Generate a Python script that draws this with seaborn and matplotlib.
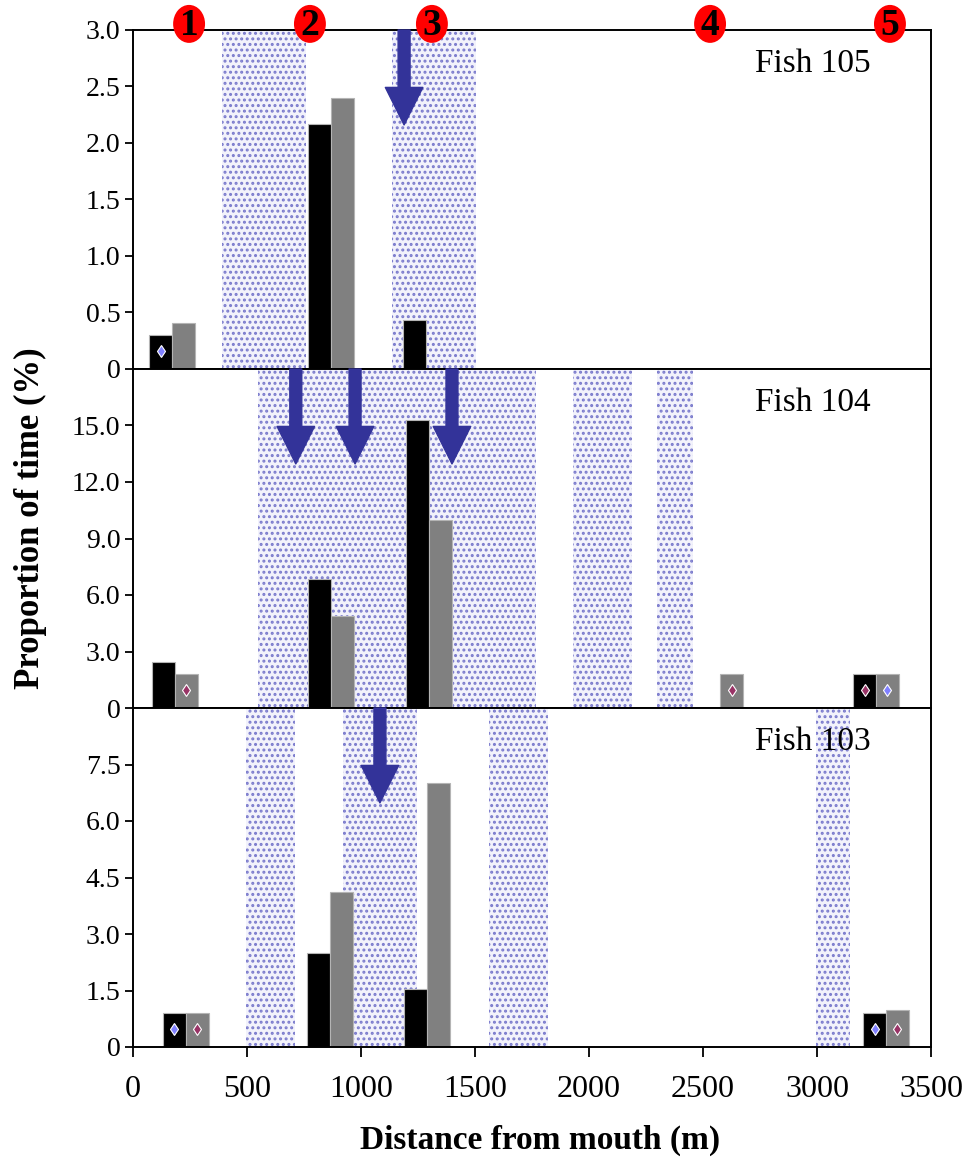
import numpy as np
import pandas as pd
import matplotlib
matplotlib.use("Agg")
import matplotlib.pyplot as plt
import seaborn as sns
from matplotlib.patches import Ellipse

# panels from top to bottom
fish = ["Fish 105", "Fish 104", "Fish 103"]

sites_105 = [172, 868, 1285]
black_105 = [0.30, 2.17, 0.43]
gray_105 = [0.41, 2.40, 0.0]

sites_104 = [184, 868, 1298, 2575, 3259]
black_104 = [2.45, 6.85, 15.3, 0.0, 1.8]
gray_104 = [1.8, 4.9, 10.0, 1.8, 1.8]

sites_103 = [232, 864, 1289, 3303]
black_103 = [0.9, 2.5, 1.55, 0.9]
gray_103 = [0.9, 4.12, 7.0, 0.98]

# shaded reaches (m)
bands_105 = [(390, 759), (1136, 1504)]
bands_104 = [(548, 1768), (1930, 2189), (2298, 2456)]
bands_103 = [(496, 711), (921, 1246), (1561, 1820), (2996, 3145)]

# arrows (m)
arrows_105 = [1189]
arrows_104 = [714, 974, 1399]
arrows_103 = [1083]

# small markers: (site index, series, colour)
marks_105 = [(0, "black", "#8080ff")]
marks_104 = [(0, "gray", "#993366"), (3, "gray", "#993366"),
             (4, "black", "#993366"), (4, "gray", "#8080ff")]
marks_103 = [(0, "black", "#8080ff"), (0, "gray", "#993366"),
             (3, "black", "#8080ff"), (3, "gray", "#993366")]
mark_y = [0.16, 0.95, 0.48]

ymax = [3.0, 18.0, 9.0]
ystep = [0.5, 3.0, 1.5]

# numbered sites along the top
site_nums = ["1", "2", "3", "4", "5"]
site_num_x = [246, 776, 1311, 2531, 3320]

sites = [sites_105, sites_104, sites_103]
blacks = [black_105, black_104, black_103]
grays = [gray_105, gray_104, gray_103]
bands = [bands_105, bands_104, bands_103]
arrows = [arrows_105, arrows_104, arrows_103]
marks = [marks_105, marks_104, marks_103]

sns.set_style("white")
plt.rcParams["font.family"] = ["Liberation Serif", "DejaVu Serif"]
plt.rcParams["text.color"] = "black"
plt.rcParams["xtick.color"] = "black"
plt.rcParams["ytick.color"] = "black"
plt.rcParams["hatch.linewidth"] = 1.4

fig = plt.figure(figsize=(9.65, 11.6), dpi=100)
left, right = 133 / 965, 931 / 965
ph = 339 / 1160
tops = [1 - 30 / 1160 - ph * i for i in range(3)]
axes = [fig.add_axes([left, t - ph, right - left, ph]) for t in tops]

half = 50
for i, ax in enumerate(axes):
    rows = []
    for s, b, g in zip(sites[i], blacks[i], grays[i]):
        if b > 0:
            rows.append({"pos": s - half, "series": "black", "val": b})
        if g > 0:
            rows.append({"pos": s + half, "series": "gray", "val": g})
    df = pd.DataFrame(rows)

    for a, b in bands[i]:
        ax.axvspan(a, b, facecolor="#f2f2fb", edgecolor="#7a7acc",
                   hatch="...", linewidth=0, zorder=0)

    sns.barplot(data=df, x="pos", y="val", hue="series", native_scale=True,
                palette={"black": "#000000", "gray": "#808080"},
                dodge=False, width=1.0, errorbar=None, legend=False,
                edgecolor="#b4b4b4", linewidth=0.8, zorder=2, ax=ax)

    for si, ser, col in marks[i]:
        x = sites[i][si] + (-half if ser == "black" else half)
        ax.plot(x, mark_y[i], marker="d", ms=6, color=col,
                mec="white", mew=0.8, zorder=3)

    for x in arrows[i]:
        ax.annotate("", xy=(x, 0.72), xytext=(x, 1.0),
                    xycoords=("data", "axes fraction"),
                    textcoords=("data", "axes fraction"),
                    arrowprops=dict(arrowstyle="simple,head_length=1.35,head_width=1.35,tail_width=0.43",
                                    color="#333399", shrinkA=0, shrinkB=0,
                                    mutation_scale=20),
                    zorder=4)

    ax.set_xlim(0, 3500)
    ax.set_ylim(0, ymax[i])
    ticks = np.arange(0, ymax[i] - ystep[i] / 2 + (ystep[i] if i == 0 else 0), ystep[i])
    ax.set_yticks(ticks)
    ax.set_yticklabels(["0"] + [f"{t:.1f}" for t in ticks[1:]])
    ax.set_xlabel("")
    ax.set_ylabel("")
    ax.tick_params(axis="y", direction="out", length=6, width=1.3,
                   pad=3, labelsize=20, left=True)
    for sp in ax.spines.values():
        sp.set_visible(True)
        sp.set_linewidth(1.4)
        sp.set_color("black")
    ax.text(0.78, 0.9, fish[i], transform=ax.transAxes, fontsize=24,
            ha="left", va="center", color="black")
    if i < 2:
        ax.set_xticks([])
    else:
        ax.set_xticks(range(0, 3501, 500))
        ax.set_xticklabels([str(v) for v in range(0, 3501, 500)])
        ax.tick_params(axis="x", direction="out", length=7, width=1.3,
                       pad=13, labelsize=23, bottom=True)

top = axes[0]
for n, x in zip(site_nums, site_num_x):
    top.add_patch(Ellipse((x, 1.018), width=140, height=0.112,
                          transform=top.get_xaxis_transform(),
                          facecolor="#ff0000", edgecolor="none",
                          clip_on=False, zorder=5))
    top.text(x, 1.012, n, transform=top.get_xaxis_transform(),
             ha="center", va="center", fontsize=27, fontweight="bold",
             color="black", zorder=6, clip_on=False)

fig.text(30 / 965, 1 - 518 / 1160, "Proportion of time (%)", rotation=90,
         ha="center", va="center", fontsize=25, fontweight="bold")
fig.text(540 / 965, 1 - 1140 / 1160, "Distance from mouth (m)",
         ha="center", va="center", fontsize=24, fontweight="bold")

fig.savefig("out.png", dpi=100)
